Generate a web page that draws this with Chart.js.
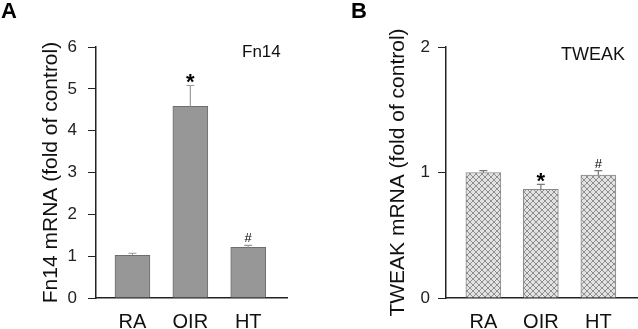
<!DOCTYPE html>
<html lang="en">
<head>
<meta charset="UTF-8">
<title>Fn14 / TWEAK mRNA</title>
<script src="https://cdn.jsdelivr.net/npm/chart.js"></script>
<style>
    html, body {
        margin: 0;
        padding: 0;
        background: #fff;
    }
    body {
        width: 638px;
        height: 329px;
        position: relative;
        overflow: hidden;
        font-family: "Liberation Sans", Arial, sans-serif;
    }
    .panel {
        position: absolute;
        top: 0;
        height: 329px;
    }
    .tag {
        position: absolute;
        font-weight: bold;
        font-size: 22px;
        line-height: 22px;
        color: #000;
    }
    .gene {
        position: absolute;
        font-size: 17px;
        line-height: 18px;
        color: #111;
    }
</style>
</head>
<body>
    <div class="panel" style="left:0;width:319px"><canvas id="chartA"></canvas></div>
    <div class="panel" style="left:320px;width:318px"><canvas id="chartB"></canvas></div>
    <div class="tag" style="left:1px;top:0px">A</div>
    <div class="tag" style="left:351px;top:0px">B</div>
    <div class="gene" style="left:242px;top:43px">Fn14</div>
    <div class="gene" style="left:561px;top:45px;font-size:18px">TWEAK</div>

<script>
    // groups
    const groups = ['RA', 'OIR', 'HT'];
    const groupPos = [1, 2, 3];

    // Fn14 mRNA (fold of control)
    const fn14Mean = [1.02, 4.58, 1.21];
    const fn14Err = [0.05, 0.50, 0.05];
    const fn14Marks = ['', '*', '#'];

    // TWEAK mRNA (fold of control)
    const tweakMean = [1.0, 0.865, 0.98];
    const tweakErr = [0.015, 0.04, 0.035];
    const tweakMarks = ['', '*', '#'];

    const fontFam = '"Liberation Sans", Arial, sans-serif';

    function crossHatch() {
        const c = document.createElement('canvas');
        c.width = 6;
        c.height = 6;
        const g = c.getContext('2d');
        g.fillStyle = '#e2e2e2';
        g.fillRect(0, 0, 6, 6);
        g.strokeStyle = '#858585';
        g.lineWidth = 0.9;
        g.beginPath();
        g.moveTo(0, 0); g.lineTo(6, 6);
        g.moveTo(6, 0); g.lineTo(0, 6);
        g.stroke();
        return g.createPattern(c, 'repeat');
    }

    // upper error bars + significance marks
    const errorBars = {
        id: 'errorBars',
        afterDatasetsDraw(chart, args, opts) {
            const ctx = chart.ctx;
            const xs = chart.scales.x, ys = chart.scales.y;
            ctx.save();
            opts.mean.forEach((m, i) => {
                const x = xs.getPixelForValue(groupPos[i]);
                const y0 = ys.getPixelForValue(m);
                const y1 = ys.getPixelForValue(m + opts.err[i]);
                ctx.strokeStyle = opts.color;
                ctx.lineWidth = 1.2;
                ctx.beginPath();
                ctx.moveTo(x, y0);
                ctx.lineTo(x, y1);
                ctx.moveTo(x - 4, y1);
                ctx.lineTo(x + 4, y1);
                ctx.stroke();
                const mk = opts.marks[i];
                if (mk) {
                    ctx.fillStyle = '#000';
                    ctx.textAlign = 'center';
                    ctx.textBaseline = 'alphabetic';
                    if (mk === '*') {
                        ctx.font = 'bold 22px ' + fontFam;
                        ctx.fillText(mk, x, y1 + 4);
                    } else {
                        ctx.font = '13px ' + fontFam;
                        ctx.fillText(mk, x, y1 - 3);
                    }
                }
            });
            ctx.restore();
        }
    };

    function makeChart(id, opt) {
        return new Chart(document.getElementById(id), {
            type: 'bar',
            data: {
                datasets: [{
                    data: opt.mean.map((v, i) => ({ x: groupPos[i], y: v })),
                    backgroundColor: opt.fill,
                    borderColor: opt.border,
                    borderWidth: 1,
                    borderSkipped: 'bottom',
                    barThickness: 35
                }]
            },
            options: {
                responsive: true,
                maintainAspectRatio: false,
                animation: false,
                layout: { padding: { top: 47, right: opt.padRight, bottom: 0, left: 0 } },
                plugins: {
                    legend: { display: false },
                    tooltip: { enabled: false },
                    errorBars: { mean: opt.mean, err: opt.err, marks: opt.marks, color: opt.errColor }
                },
                scales: {
                    x: {
                        type: 'linear',
                        offset: false,
                        min: opt.xMin,
                        max: opt.xMax,
                        afterBuildTicks: s => { s.ticks = groupPos.map(v => ({ value: v })); },
                        afterFit: s => { s.height = 31; },
                        grid: { display: true, offset: false, drawOnChartArea: false, drawTicks: false },
                        border: { display: true, color: '#222', width: 1.5 },
                        ticks: {
                            callback: v => groups[v - 1],
                            color: '#111',
                            padding: 12,
                            maxRotation: 0,
                            font: { family: fontFam, size: 20 }
                        }
                    },
                    y: {
                        min: 0,
                        max: opt.yMax,
                        afterFit: s => { s.width = opt.axisLeft; },
                        grid: { drawOnChartArea: false, drawTicks: true, tickLength: 8, color: '#222' },
                        border: { display: true, color: '#222', width: 1.5 },
                        ticks: {
                            stepSize: 1,
                            color: '#222',
                            padding: opt.tickPad,
                            font: { family: fontFam, size: 17 }
                        },
                        title: {
                            display: true,
                            text: opt.title,
                            color: '#111',
                            padding: { top: opt.titlePad, bottom: 0 },
                            font: { family: fontFam, size: 21 }
                        }
                    }
                }
            },
            plugins: [errorBars]
        });
    }

    makeChart('chartA', {
        mean: fn14Mean, err: fn14Err, marks: fn14Marks,
        fill: '#979797', border: '#6e6e6e', errColor: '#9a9a9a',
        xMin: 0.37, xMax: 3.67, yMax: 6,
        axisLeft: 96, padRight: 32, tickPad: 11,
        titlePad: 39, title: 'Fn14 mRNA (fold of control)'
    });

    makeChart('chartB', {
        mean: tweakMean, err: tweakErr, marks: tweakMarks,
        fill: crossHatch(), border: '#8a8a8a', errColor: '#777',
        xMin: 0.35, xMax: 3.69, yMax: 2,
        axisLeft: 126, padRight: 0, tickPad: 8,
        titlePad: 66, title: 'TWEAK mRNA (fold of control)'
    });
</script>
</body>
</html>
